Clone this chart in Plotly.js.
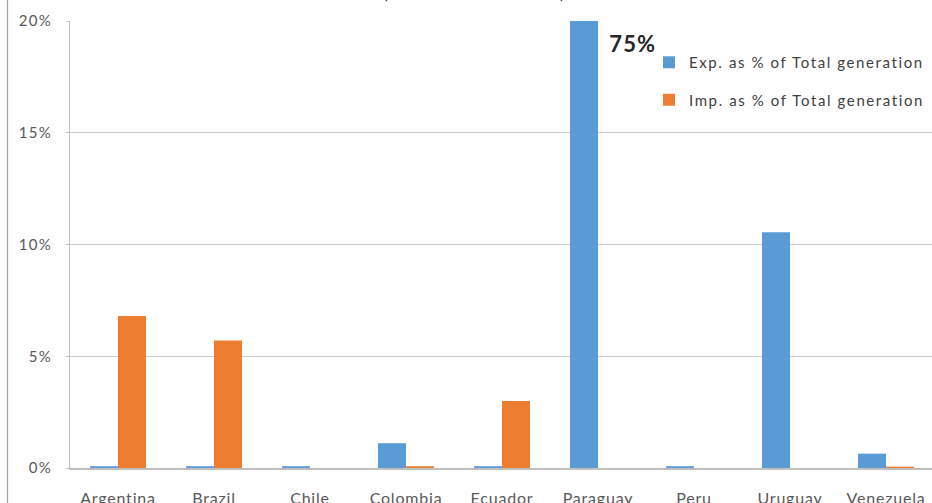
<!DOCTYPE html>
<html>
<head>
<meta charset="utf-8">
<script src="https://cdn.plot.ly/plotly-3.0.1.min.js"></script>
<style>
html,body{margin:0;padding:0;background:#fff;}
#chart{width:932px;height:503px;}
#chart .xtick text{letter-spacing:0.8px;}
#chart .ytick text{letter-spacing:1.3px;}
.legendtext{letter-spacing:1.6px;}
#chart .annotation-text.big{letter-spacing:1.2px;}
</style>
</head>
<body>
<div id="chart"></div>
<script>
const countries = ["Argentina","Brazil","Chile","Colombia","Ecuador","Paraguay","Peru","Uruguay","Venezuela"];
const exportsPct = [0.08, 0.08, 0.08, 1.11, 0.08, 75, 0.08, 10.55, 0.64];
const importsPct = [6.8, 5.7, 0, 0.08, 3.0, 0, 0, 0, 0.06];
const seriesNames = ["Exp. as % of Total generation", "Imp. as % of Total generation"];
const yTickVals = [0, 5, 10, 15, 20];
const yTickText = ["0%", "5%", "10%", "15%", "20%"];
const paraguayLabel = "75%";

const font = "Lato, 'Open Sans', 'DejaVu Sans', sans-serif";

const traces = [
  {type: "bar", x: countries, y: exportsPct, name: seriesNames[0], legendgroup: "a",
   marker: {color: "#5B9BD5", line: {width: 0}}, hoverinfo: "x+y"},
  {type: "bar", x: countries, y: importsPct, name: seriesNames[1], legendgroup: "b",
   marker: {color: "#ED7D31", line: {width: 0}}, hoverinfo: "x+y"}
];

const layout = {
  width: 932, height: 503,
  margin: {l: 70, r: 0, t: 21, b: 35, pad: 0},
  paper_bgcolor: "#ffffff", plot_bgcolor: "#ffffff",
  barmode: "group", bargap: 0.417, bargroupgap: 0,
  font: {family: font, color: "#595959", size: 13},
  showlegend: true,
  legend: {x: (649 - 70) / 862, y: 0.944, xanchor: "left", yanchor: "top",
    font: {family: font, size: 15, color: "#404040"},
    bgcolor: "rgba(0,0,0,0)", traceorder: "grouped", tracegroupgap: 15, itemwidth: 30},
  xaxis: {
    range: [-0.5, 8.479], type: "category", fixedrange: true,
    showline: true, linecolor: "#bfbfbf", linewidth: 1.5,
    ticks: "", showgrid: false, zeroline: false,
    tickfont: {family: font, size: 16, color: "#595959"},
    ticklabelstandoff: 15
  },
  yaxis: {
    range: [0, 20], fixedrange: true,
    tickvals: yTickVals, ticktext: yTickText,
    showgrid: true, gridcolor: "#cccccc", gridwidth: 1,
    showline: true, linecolor: "#bfbfbf", linewidth: 1,
    ticks: "outside", ticklen: 3, tickcolor: "#bfbfbf",
    zeroline: false,
    tickfont: {family: font, size: 15, color: "#595959"},
    ticklabelstandoff: 11
  },
  annotations: [
    {xref: "x", yref: "paper", x: "Paraguay", xshift: 35, y: 0.949, text: "<b>" + paraguayLabel + "</b>",
     showarrow: false, xanchor: "center", yanchor: "middle",
     font: {family: font, size: 22, color: "#262626"}},
    {xref: "paper", yref: "paper", x: (385 - 70) / 862, y: 1 + 21 / 447, yanchor: "bottom", yshift: -5,
     text: "(", showarrow: false, font: {family: font, size: 17, color: "#404040"}},
    {xref: "paper", yref: "paper", x: (562 - 70) / 862, y: 1 + 21 / 447, yanchor: "bottom", yshift: -5,
     text: ")", showarrow: false, font: {family: font, size: 17, color: "#404040"}}
  ],
  shapes: [
    {type: "line", xref: "paper", yref: "paper", x0: (7.5 - 70) / 862, x1: (7.5 - 70) / 862,
     y0: -0.1, y1: 1.1, line: {color: "#a6a6a6", width: 1.2}}
  ]
};

Plotly.newPlot("chart", traces, layout, {displayModeBar: false, staticPlot: true}).then(function (gd) {
  const ann = gd.querySelectorAll(".annotation-text");
  if (ann.length) { ann[0].classList.add("big"); }
});
</script>
</body>
</html>
